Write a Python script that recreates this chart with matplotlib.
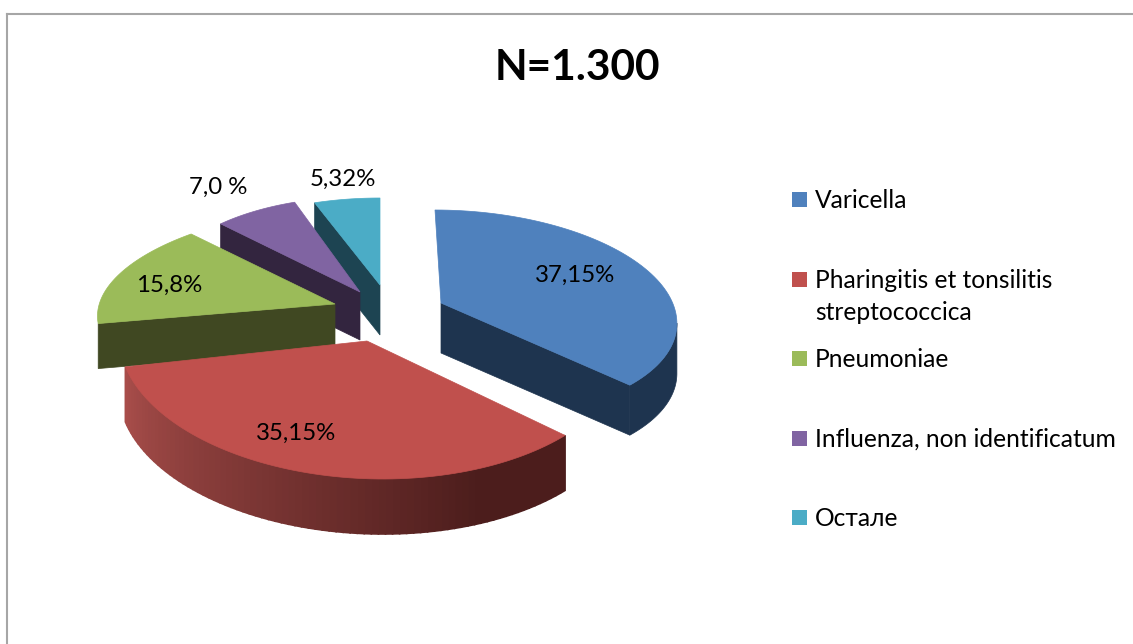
import numpy as np
import matplotlib
matplotlib.use("Agg")
import matplotlib.pyplot as plt
from matplotlib.patches import Polygon, Rectangle
from matplotlib.colors import to_rgb

plt.rcParams['font.family'] = ['Lato', 'Open Sans', 'DejaVu Sans']

categories = ['Varicella', 'Pharingitis et tonsilitis\nstreptococcica', 'Pneumoniae',
              'Influenza, non identificatum', 'Остале']
values = [37.15, 35.15, 15.8, 7.0, 5.32]
value_labels = ['37,15%', '35,15%', '15,8%', '7,0 %', '5,32%']
title = 'N=1.300'

top_colors = ['#4F81BD', '#C0504D', '#9BBB59', '#8064A2', '#4BACC6']
side_colors = ['#1E344F', '#4C1D1C', '#404822', '#33253F', '#1D4452']

# apex of each exploded slice, then the ellipse its outer edge lies on
# (cx, cy, a, b, skew), the skew fakes the perspective of the 3d pie, then thickness
apex = [(441, 303), (367, 341), (335, 304), (360, 292), (380, 285)]
rim = [(455, 314, 221, 104, -20), (373, 341, 254, 138, -10), (339, 305, 240, 99, 27),
       (360, 292, 200, 95, 0), (380, 285, 200, 87, 0)]
depth = [50, 55, 45, 48, 50]
label_pos = [(575, 274), (296, 432), (169, 284), (218, 186), (343, 178)]
legend_y = [199, 279, 358, 438, 517]


def arc(r, t1, t2, n=80):
    t = np.radians(np.linspace(t1, t2, n))
    return np.column_stack([r[0] + r[2] * np.cos(t) + r[4] * np.sin(t), r[1] - r[3] * np.sin(t)])


def draw_slice(ax, i, t1, t2, z):
    pts = arc(rim[i], t1, t2)
    ap = np.array(apex[i], dtype=float)
    down = np.array([0, depth[i]])

    # cut faces that look towards the viewer
    if i == 0:
        end = pts[-1]
    elif i == 1:
        end = None
    else:
        end = pts[0]
    if end is not None:
        ax.add_patch(Polygon([ap, end, end + down, ap + down], fc=side_colors[i], ec=side_colors[i], lw=0.5, zorder=z))

    # outer wall, only the part facing front
    if i == 1:
        c0 = np.array(to_rgb('#A94E4B'))
        c1 = np.array(to_rgb(side_colors[1]))
        # shading is lightest at the left end, pts run right to left
        n = len(pts)
        for k in range(n - 1):
            f = min(1, (n - 1 - k) / (n * 0.8))
            col = c0 + (c1 - c0) * f
            ax.add_patch(Polygon([pts[k], pts[k + 1], pts[k + 1] + down, pts[k] + down],
                                 fc=col, ec=col, lw=1.2, zorder=z))
    elif i == 0:
        wall = arc(rim[i], -5, t2)
        ax.add_patch(Polygon(np.vstack([wall, (wall + down)[::-1]]), fc=side_colors[i], ec=side_colors[i],
                             lw=0.5, zorder=z))

    ax.add_patch(Polygon(np.vstack([ap, pts]), fc=top_colors[i], ec=top_colors[i], lw=0.5, zorder=z + 0.5))


fig = plt.figure(figsize=(11.33, 6.44), dpi=100)
ax = fig.add_axes([0, 0, 1, 1])
ax.set_xlim(0, 1133)
ax.set_ylim(644, 0)
ax.axis('off')

# chart frame, runs off the right and bottom edges
ax.plot([7, 7], [646, 14], color='#A6A6A6', lw=1.5, zorder=1)
ax.plot([7, 1135], [14, 14], color='#A6A6A6', lw=1.5, zorder=1)

# angles come from the values: start at 12 o'clock, go clockwise
total = sum(values)
angle = 90.0
order = {0: 2, 1: 10, 2: 8, 3: 6, 4: 4}
for i, v in enumerate(values):
    sweep = v / total * 360
    draw_slice(ax, i, angle, angle - sweep, order[i])
    angle -= sweep

for lab, (x, y) in zip(value_labels, label_pos):
    ax.text(x, y + 1, lab, ha='center', va='center', fontsize=17.3, color='black', zorder=20)

ax.text(577, 68, title, ha='center', va='center', fontsize=30.5, fontweight='bold', color='black')

for cat, col, y in zip(categories, top_colors, legend_y):
    ax.add_patch(Rectangle((792, y - 7.5), 15, 15, fc=col, ec='none'))
    ax.text(815, y - 10, cat, ha='left', va='top', fontsize=17.7, color='black', linespacing=1.45)

fig.savefig('out.png', dpi=100)
